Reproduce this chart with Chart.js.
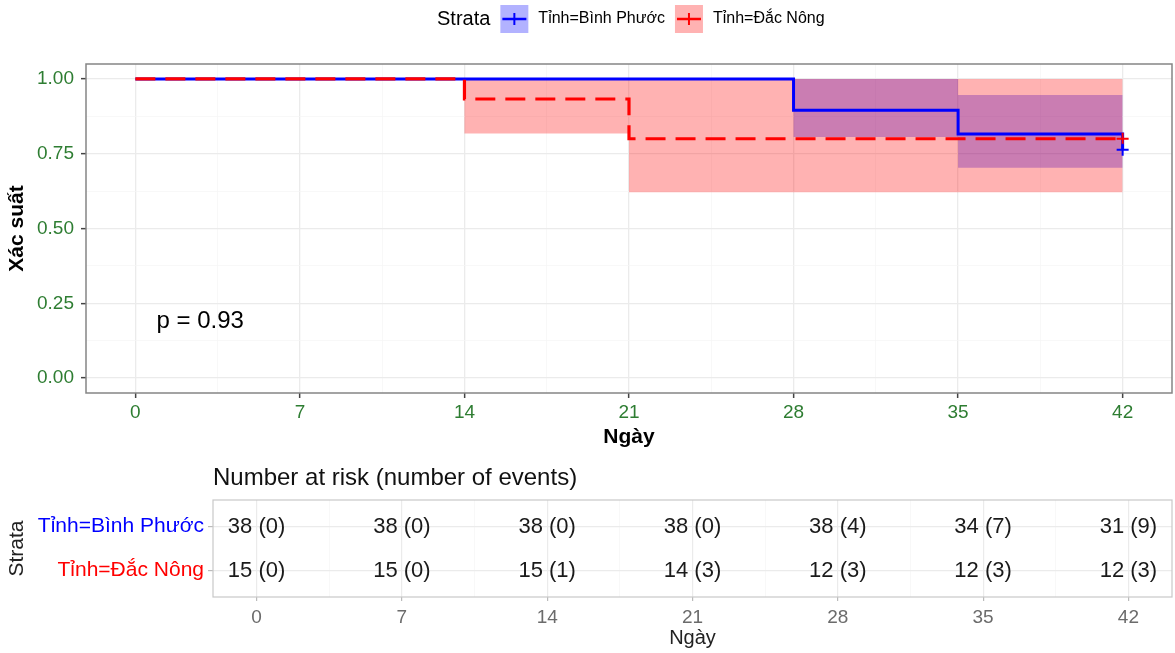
<!DOCTYPE html>
<html>
<head>
<meta charset="utf-8">
<title>Kaplan–Meier</title>
<script src="https://cdn.jsdelivr.net/npm/chart.js@4.4.1/dist/chart.umd.min.js"></script>
<style>
  html, body { margin: 0; padding: 0; background: #ffffff; }
  #wrap { position: relative; width: 1175px; height: 653px; overflow: hidden; }
  #survival { position: absolute; left: 0; top: 0; }
  #risk { position: absolute; left: 0; top: 460px; }
</style>
</head>
<body>
<div id="wrap">
  <canvas id="survival" width="1175" height="460"></canvas>
  <canvas id="risk" width="1175" height="193"></canvas>
</div>
<script>
// ---- data -------------------------------------------------------------
const strata = ['Tỉnh=Bình Phước', 'Tỉnh=Đắc Nông'];
const dayTicks = [0, 7, 14, 21, 28, 35, 42];
const probTicks = [0, 0.25, 0.5, 0.75, 1];

// Kaplan–Meier steps: time, survival, 95% confidence limits
const bpTime  = [0, 28, 35, 42];
const bpSurv  = [1, 0.895, 0.816, 0.763];
const bpLower = [1, 0.806, 0.703, 0.703];
const bpUpper = [1, 1, 0.946, 0.946];

const dnTime  = [0, 14, 21, 42];
const dnSurv  = [1, 0.933, 0.800, 0.800];
const dnLower = [1, 0.818, 0.621, 0.621];
const dnUpper = [1, 1, 1, 1];

// censoring marks (one per stratum)
const censorTime = [42, 42];
const censorSurv = [0.763, 0.800];

const pValueText = 'p = 0.93';

// number at risk (cumulative events) at each day tick
const bpAtRisk = [38, 38, 38, 38, 38, 34, 31];
const bpEvents = [0, 0, 0, 0, 4, 7, 9];
const dnAtRisk = [15, 15, 15, 14, 12, 12, 12];
const dnEvents = [0, 0, 1, 3, 3, 3, 3];

// ---- styling ----------------------------------------------------------
const FONT = "'Liberation Sans', Arial, Helvetica, sans-serif";
const BLUE = '#0000FF';
const RED = '#FF0000';
const BLUE_BAND = 'rgba(0,0,255,0.3)';
const RED_BAND = 'rgba(255,0,0,0.3)';
const GREEN = '#2E7D32';
const GRID_MAJOR = '#EBEBEB';
const GRID_MINOR = '#F5F5F5';

Chart.defaults.font.family = FONT;
Chart.defaults.color = '#000';

const pts = (xs, ys) => xs.map((x, i) => ({ x, y: ys[i] }));
const withMidpoints = (arr) => {
  const out = [];
  arr.forEach((v, i) => {
    out.push(v);
    if (i < arr.length - 1) out.push((v + arr[i + 1]) / 2);
  });
  return out;
};
const isMajor = (arr, v) => arr.some(t => Math.abs(t - v) < 1e-9);

// ---- plugins ----------------------------------------------------------
const panelFrame = {
  id: 'panelFrame',
  afterDraw(chart, args, opts) {
    const { ctx, chartArea: a } = chart;
    ctx.save();
    ctx.strokeStyle = opts.color;
    ctx.lineWidth = opts.width;
    ctx.strokeRect(a.left, a.top, a.right - a.left, a.bottom - a.top);
    ctx.restore();
  }
};

const pValueLabel = {
  id: 'pValueLabel',
  afterDatasetsDraw(chart) {
    const { ctx, scales } = chart;
    ctx.save();
    ctx.font = `24px ${FONT}`;
    ctx.fillStyle = '#000';
    ctx.textAlign = 'left';
    ctx.textBaseline = 'middle';
    ctx.fillText(pValueText, scales.x.getPixelForValue(0.9), scales.y.getPixelForValue(0.19));
    ctx.restore();
  }
};

const strataLegend = {
  id: 'strataLegend',
  afterDraw(chart) {
    const { ctx } = chart;
    const cy = 19;
    const box = 28;
    let x = 437;
    ctx.save();
    ctx.textBaseline = 'middle';
    ctx.textAlign = 'left';
    ctx.fillStyle = '#000';
    ctx.font = `20px ${FONT}`;
    ctx.fillText('Strata', x, cy);
    x += ctx.measureText('Strata').width + 10;
    const keys = [
      { label: strata[0], line: BLUE, band: BLUE_BAND },
      { label: strata[1], line: RED, band: RED_BAND }
    ];
    ctx.font = `16px ${FONT}`;
    keys.forEach(k => {
      ctx.fillStyle = k.band;
      ctx.fillRect(x, cy - box / 2, box, box);
      ctx.strokeStyle = k.line;
      ctx.lineWidth = 2.5;
      ctx.beginPath();
      ctx.moveTo(x + 2, cy);
      ctx.lineTo(x + box - 2, cy);
      ctx.stroke();
      ctx.lineWidth = 2;
      ctx.beginPath();
      ctx.moveTo(x + box / 2, cy - 6);
      ctx.lineTo(x + box / 2, cy + 6);
      ctx.stroke();
      x += box + 10;
      ctx.fillStyle = '#000';
      ctx.fillText(k.label, x, cy);
      x += ctx.measureText(k.label).width + 10;
    });
    ctx.restore();
  }
};

const riskTitle = {
  id: 'riskTitle',
  afterDraw(chart) {
    const { ctx, chartArea: a } = chart;
    ctx.save();
    ctx.font = `24px ${FONT}`;
    ctx.fillStyle = '#111';
    ctx.textAlign = 'left';
    ctx.textBaseline = 'middle';
    ctx.fillText('Number at risk (number of events)', a.left, 18);
    ctx.restore();
  }
};

const riskCells = {
  id: 'riskCells',
  afterDatasetsDraw(chart) {
    const { ctx } = chart;
    const atRisk = [bpAtRisk, dnAtRisk];
    const events = [bpEvents, dnEvents];
    ctx.save();
    ctx.font = `22px ${FONT}`;
    ctx.fillStyle = '#1a1a1a';
    ctx.textAlign = 'center';
    ctx.textBaseline = 'middle';
    chart.data.datasets.forEach((ds, di) => {
      chart.getDatasetMeta(di).data.forEach((el, i) => {
        ctx.fillText(`${atRisk[di][i]} (${events[di][i]})`, el.x, el.y);
      });
    });
    ctx.restore();
  }
};

// ---- survival curves --------------------------------------------------
const hidden = 'rgba(0,0,0,0)';
const bandSet = (label, data, fill, bg, order) => ({
  label, data, stepped: true, borderColor: hidden, borderWidth: 0,
  pointRadius: 0, fill, backgroundColor: bg, order
});

new Chart(document.getElementById('survival'), {
  type: 'line',
  data: {
    datasets: [
      bandSet('bp-lower', pts(bpTime, bpLower), false, hidden, 6),
      bandSet('bp-upper', pts(bpTime, bpUpper), '-1', BLUE_BAND, 5),
      bandSet('dn-lower', pts(dnTime, dnLower), false, hidden, 4),
      bandSet('dn-upper', pts(dnTime, dnUpper), '-1', RED_BAND, 3),
      {
        label: strata[0], data: pts(bpTime, bpSurv), stepped: true,
        borderColor: BLUE, borderWidth: 3, pointRadius: 0, fill: false, order: 2
      },
      {
        label: strata[1], data: pts(dnTime, dnSurv), stepped: true,
        borderColor: RED, borderWidth: 3.2, borderDash: [20, 10], pointRadius: 0, fill: false, order: 1
      },
      {
        label: 'bp-censor', type: 'scatter', data: [{ x: censorTime[0], y: censorSurv[0] }],
        pointStyle: 'cross', pointRadius: 6, borderColor: BLUE, borderWidth: 2, order: 0
      },
      {
        label: 'dn-censor', type: 'scatter', data: [{ x: censorTime[1], y: censorSurv[1] }],
        pointStyle: 'cross', pointRadius: 6, borderColor: RED, borderWidth: 2, order: 0
      }
    ]
  },
  options: {
    responsive: false,
    animation: false,
    devicePixelRatio: 1,
    layout: { autoPadding: false, padding: { top: 64, right: 3, left: 0, bottom: 0 } },
    plugins: {
      legend: { display: false },
      tooltip: { enabled: false },
      panelFrame: { color: '#858585', width: 1.5 }
    },
    scales: {
      x: {
        type: 'linear', min: -2.1, max: 44.1,
        afterBuildTicks: s => { s.ticks = withMidpoints(dayTicks).map(v => ({ value: v })); },
        afterFit: s => { s.height = 67; },
        ticks: {
          autoSkip: false, maxRotation: 0, padding: 3,
          color: GREEN, font: { size: 19 },
          callback: (v, i, t) => isMajor(dayTicks, t[i].value) ? String(t[i].value) : ''
        },
        grid: {
          drawTicks: true, tickLength: 5,
          color: c => isMajor(dayTicks, c.tick.value) ? GRID_MAJOR : GRID_MINOR,
          lineWidth: c => isMajor(dayTicks, c.tick.value) ? 1.3 : 0.7,
          tickColor: c => isMajor(dayTicks, c.tick.value) ? '#444' : hidden,
          tickWidth: 1.5
        },
        border: { display: false },
        title: {
          display: true, text: 'Ngày', color: '#000',
          font: { size: 21, weight: 'bold' }, padding: { top: 0, bottom: 10 }
        }
      },
      y: {
        type: 'linear', min: -0.05, max: 1.05,
        afterBuildTicks: s => { s.ticks = withMidpoints(probTicks).map(v => ({ value: v })); },
        afterFit: s => { s.width = 86; },
        ticks: {
          autoSkip: false, padding: 7,
          color: GREEN, font: { size: 19 },
          callback: (v, i, t) => isMajor(probTicks, t[i].value) ? t[i].value.toFixed(2) : ''
        },
        grid: {
          drawTicks: true, tickLength: 5,
          color: c => isMajor(probTicks, c.tick.value) ? GRID_MAJOR : GRID_MINOR,
          lineWidth: c => isMajor(probTicks, c.tick.value) ? 1.3 : 0.7,
          tickColor: c => isMajor(probTicks, c.tick.value) ? '#444' : hidden,
          tickWidth: 1.5
        },
        border: { display: false },
        title: {
          display: true, text: 'Xác suất', color: '#000',
          font: { size: 21, weight: 'bold' }, padding: { top: 5, bottom: 0 }
        }
      }
    }
  },
  plugins: [panelFrame, pValueLabel, strataLegend]
});

// ---- number-at-risk table ---------------------------------------------
new Chart(document.getElementById('risk'), {
  type: 'scatter',
  data: {
    datasets: [
      { label: strata[0], data: dayTicks.map(d => ({ x: d, y: 1 })), pointRadius: 0 },
      { label: strata[1], data: dayTicks.map(d => ({ x: d, y: 2 })), pointRadius: 0 }
    ]
  },
  options: {
    responsive: false,
    animation: false,
    devicePixelRatio: 1,
    layout: { autoPadding: false, padding: { top: 40, right: 3, left: 0, bottom: 0 } },
    plugins: {
      legend: { display: false },
      tooltip: { enabled: false },
      panelFrame: { color: '#C8C8C8', width: 1.2 }
    },
    scales: {
      x: {
        type: 'linear', min: -2.1, max: 44.1,
        afterBuildTicks: s => { s.ticks = withMidpoints(dayTicks).map(v => ({ value: v })); },
        afterFit: s => { s.height = 56; },
        ticks: {
          autoSkip: false, maxRotation: 0, padding: 5,
          color: '#6b6b6b', font: { size: 19 },
          callback: (v, i, t) => isMajor(dayTicks, t[i].value) ? String(t[i].value) : ''
        },
        grid: {
          drawTicks: true, tickLength: 4,
          color: c => isMajor(dayTicks, c.tick.value) ? GRID_MAJOR : GRID_MINOR,
          lineWidth: c => isMajor(dayTicks, c.tick.value) ? 1.2 : 0.7,
          tickColor: c => isMajor(dayTicks, c.tick.value) ? '#BBBBBB' : hidden
        },
        border: { display: false },
        title: {
          display: true, text: 'Ngày', color: '#222',
          font: { size: 20 }, padding: { top: 0, bottom: 3 }
        }
      },
      y: {
        type: 'linear', min: 0.4, max: 2.6, reverse: true,
        afterBuildTicks: s => { s.ticks = [1, 2].map(v => ({ value: v })); },
        afterFit: s => { s.width = 213; },
        ticks: {
          autoSkip: false, padding: 4,
          color: c => [BLUE, RED][c.index], font: { size: 21 },
          callback: (v, i) => strata[i]
        },
        grid: {
          drawTicks: true, tickLength: 5,
          color: GRID_MAJOR, lineWidth: 1.2, tickColor: '#BBBBBB'
        },
        border: { display: false },
        title: {
          display: true, text: 'Strata', color: '#222',
          font: { size: 21 }, padding: { top: 5, bottom: 0 }
        }
      }
    }
  },
  plugins: [panelFrame, riskTitle, riskCells]
});
</script>
</body>
</html>
